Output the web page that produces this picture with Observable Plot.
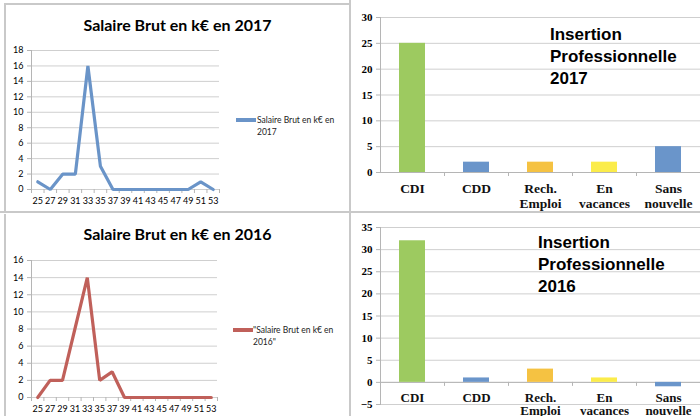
<!DOCTYPE html>
<html><head><meta charset="utf-8">
<script src="https://cdn.jsdelivr.net/npm/d3@7"></script>
<script src="https://cdn.jsdelivr.net/npm/@observablehq/plot@0.6"></script>
<style>
body{margin:0;background:#fff;}
#wrap{position:relative;width:700px;height:416px;overflow:hidden;background:#fff;}
.abs{position:absolute;}
.line{position:absolute;background:#c9c9c9;}
.ttl{position:absolute;font-family:Lato,"Liberation Sans",sans-serif;font-weight:bold;font-size:16px;color:#000;text-align:center;white-space:nowrap;}
.leg{position:absolute;font-family:Lato,"Liberation Sans",sans-serif;font-size:8.5px;line-height:12px;color:#222;white-space:nowrap;}
.legsw{position:absolute;height:4px;width:20px;}
.ins{position:absolute;font-family:"Liberation Sans",Arial,sans-serif;font-weight:bold;font-size:17px;line-height:22px;color:#000;white-space:nowrap;}
</style></head>
<body><div id="wrap"></div>
<script>
// ---- data ----
const salaryBins = [25,27,29,31,33,35,37,39,41,43,45,47,49,51,53];
const count2017 = [1,0,2,2,16,3,0,0,0,0,0,0,0,1,0];
const count2016 = [0,2,2,8,14,2,3,0,0,0,0,0,0,0,0];
const yTicks2017 = [0,2,4,6,8,10,12,14,16,18];
const yTicks2016 = [0,2,4,6,8,10,12,14,16];
const statusCats = ["CDI","CDD","Rech.\nEmploi","En\nvacances","Sans\nnouvelle"];
const status2017 = [25,2,2,2,5];
const status2016 = [32,1,3,1,-1];
const barTicks2017 = [0,5,10,15,20,25,30];
const barTicks2016 = [-5,0,5,10,15,20,25,30,35];
const titleLine2017 = "Salaire Brut en k€ en 2017";
const titleLine2016 = "Salaire Brut en k€ en 2016";
const legend2017 = ["Salaire Brut en k€ en","2017"];
const legend2016 = ["\"Salaire Brut en k€ en","2016\""];
const insertion2017 = ["Insertion","Professionnelle","2017"];
const insertion2016 = ["Insertion","Professionnelle","2016"];
// styling
const barColors = ["#9dca60","#6a95ca","#f5c242","#fbec4a","#6a95ca"];
const blue = "#6a94c8", red = "#c0605a";
const gridColor = "#cfcfcf", axisColor = "#b5b5b5";

const wrap = document.getElementById("wrap");
function place(el, left, top){ el.style.position="absolute"; el.style.left=left+"px"; el.style.top=top+"px"; wrap.appendChild(el); return el; }
function div(cls, html, left, top){ const d=document.createElement("div"); d.className=cls; d.innerHTML=html; return place(d,left,top); }

function lineChart(values, yTicks, color, opts){
  const data = salaryBins.map((b,i)=>({bin:b, n:values[i]}));
  const bounds = salaryBins.map(b=>b-1).concat([salaryBins[salaryBins.length-1]+1]);
  return Plot.plot({
    width:350, height:opts.height,
    marginLeft:opts.ml, marginRight:opts.mr, marginTop:opts.mt, marginBottom:opts.mb,
    style:{fontFamily:'Lato,"Liberation Sans",sans-serif', fontSize:"9px", color:"#000", background:"transparent", overflow:"visible"},
    x:{domain:[bounds[0], bounds[bounds.length-1]]},
    y:{domain:[0, yTicks[yTicks.length-1]]},
    marks:[
      Plot.gridY({ticks:yTicks, stroke:gridColor, strokeOpacity:1}),
      Plot.frame({anchor:"left", stroke:axisColor}),
      Plot.axisY({ticks:yTicks, tickSize:4, tickPadding:4, stroke:axisColor, label:null}),
      Plot.axisX({ticks:bounds, tickSize:4, tickFormat:()=>"", stroke:axisColor, label:null}),
      Plot.axisX({ticks:salaryBins, tickSize:0, tickPadding:8, tickFormat:d=>String(d), label:null}),
      Plot.line(data, {x:"bin", y:"n", stroke:color, strokeWidth:3.2, strokeLinejoin:"miter"})
    ]
  });
}

function barChart(values, yTicks, opts){
  const data = statusCats.map((c,i)=>({cat:c, v:values[i]}));
  const step = (350 - opts.ml) / (statusCats.length);
  return Plot.plot({
    width:350, height:opts.height,
    marginLeft:opts.ml, marginRight:0, marginTop:opts.mt, marginBottom:opts.mb,
    style:{fontFamily:'"Liberation Serif",serif', fontSize:"11px", color:"#000", background:"transparent", overflow:"visible"},
    x:{domain:statusCats, paddingInner:0.6, paddingOuter:0.3, axis:null},
    y:{domain:[yTicks[0], yTicks[yTicks.length-1]]},
    color:{domain:statusCats, range:barColors},
    marks:[
      Plot.gridY({ticks:yTicks, stroke:gridColor, strokeOpacity:1}),
      Plot.frame({anchor:"left", stroke:axisColor}),
      Plot.axisY({ticks:yTicks, tickSize:4, tickPadding:4, stroke:axisColor, fontWeight:"bold", fontSize:11, label:null}),
      Plot.ruleY([0], {stroke:axisColor}),
      Plot.ruleX(statusCats, {x:d=>d, y1:()=>0, y2:()=>0, insetBottom:-4, dx:step/2, stroke:axisColor}),
      Plot.barY(data, {x:"cat", y:"v", fill:"cat"}),
      Plot.text(statusCats, {x:d=>d, y:()=>0, text:d=>d, lineAnchor:"top", dy:opts.labelDy, fontSize:opts.fs, fontWeight:"bold", lineHeight:opts.lh, fill:"#111"})
    ]
  });
}

// borders
div("line","",5,3).style.cssText += "width:345px;height:2px;";
div("line","",4,3).style.cssText += "width:2px;height:209px;";
div("line","",4,214).style.cssText += "width:2px;height:202px;";
div("line","",349,0).style.cssText += "width:2px;height:416px;";
div("line","",0,211).style.cssText += "width:700px;height:2px;";

// top-left
place(lineChart(count2017, yTicks2017, blue, {height:212, ml:31, mr:131, mt:50, mb:23}), 0, 0);
const t1 = div("ttl", titleLine2017, 5, 15); t1.style.width="345px";
div("legsw","",236,118).style.background = blue;
div("leg", legend2017.join("<br>"), 257, 114);

// bottom-left
place(lineChart(count2016, yTicks2016, red, {height:204, ml:31, mr:133, mt:48, mb:19}), 0, 212);
const t2 = div("ttl", titleLine2016, 5, 224); t2.style.width="345px";
div("legsw","",233,328).style.background = red;
div("leg", legend2016.join("<br>"), 253, 324);

// top-right
place(barChart(status2017, barTicks2017, {height:212, ml:30, mt:17, mb:40, labelDy:11, lh:1.04, fs:13.5}), 350, 0);
div("ins", insertion2017.join("<br>"), 550, 24);

// bottom-right
place(barChart(status2016, barTicks2016, {height:204, ml:30, mt:15, mb:12, labelDy:10, lh:1.0, fs:13}), 350, 212);
div("ins", insertion2016.join("<br>"), 538, 232);
</script></body></html>
